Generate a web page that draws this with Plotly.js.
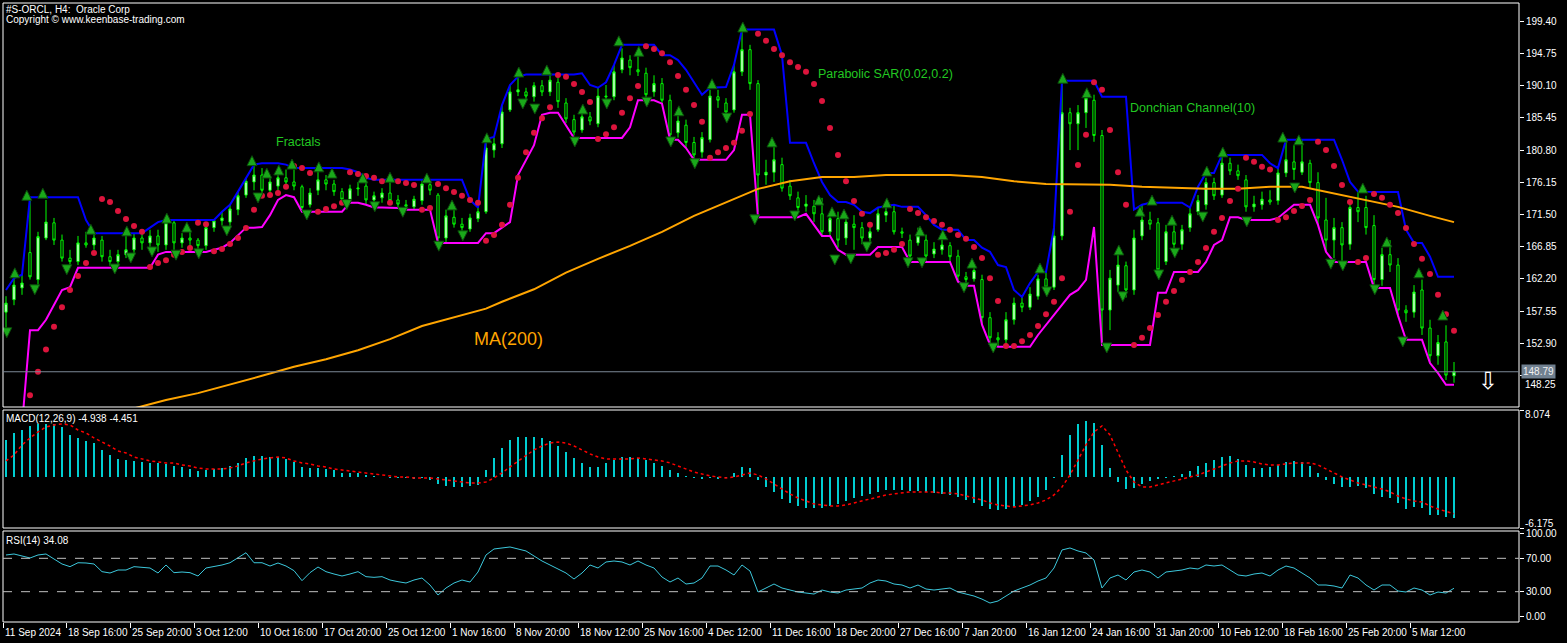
<!DOCTYPE html>
<html><head><meta charset="utf-8">
<script src="https://cdn.plot.ly/plotly-3.0.1.min.js"></script>
<style>html,body{margin:0;padding:0;background:#000;}#chart{width:1567px;height:643px;}</style>
</head><body><div id="chart"></div>
<script>
// ---------- DATA (H4 bars, #S-ORCL) ----------
const openP = [
157.4,159.2,160.9,166.0,162.1,168.1,170.3,167.8,165.2,164.7,
167.4,167.1,167.8,165.4,164.7,165.7,166.4,168.1,167.4,168.4,
167.1,170.3,167.4,168.1,167.8,167.0,169.6,170.6,170.4,172.2,
174.3,176.2,177.2,175.0,175.6,176.8,176.2,175.5,172.9,175.0,
176.5,175.9,174.8,173.7,175.2,175.6,173.6,173.9,174.6,173.6,
172.9,172.6,173.5,175.8,174.3,168.1,171.1,170.1,169.4,170.9,
171.9,180.8,181.7,186.6,189.2,189.2,188.5,190.1,189.2,190.6,
187.6,185.2,183.7,185.6,184.6,188.6,188.5,192.4,193.8,192.4,
191.9,189.2,190.4,188.0,183.3,184.4,181.9,180.5,182.3,188.5,
187.6,186.6,192.1,195.3,190.4,177.2,177.6,178.7,175.6,173.9,
172.7,172.7,171.6,169.0,170.9,168.1,170.1,169.6,168.1,169.3,
171.4,171.9,169.0,167.8,167.4,167.8,165.8,166.4,167.0,165.5,
162.5,162.2,162.1,156.6,153.7,153.4,156.3,158.7,158.1,159.7,
162.2,161.0,168.4,186.2,184.6,186.2,188.0,182.9,157.7,161.3,
164.1,160.6,168.4,170.7,170.3,164.7,169.0,167.2,169.6,171.9,
172.9,176.1,174.3,178.9,177.8,176.5,172.6,172.9,173.6,173.5,
177.5,179.1,177.6,178.9,176.1,170.7,167.8,169.6,167.2,172.5,
172.5,169.9,162.1,165.7,164.2,157.7,157.4,160.6,155.1,151.1,
153.1,148.2];
const highP = [
159.7,162.3,162.8,173.9,169.0,173.6,171.0,168.6,166.4,168.4,
169.0,168.8,168.4,166.4,166.4,168.6,168.8,168.8,169.3,169.3,
170.7,170.7,168.8,169.0,168.1,170.1,170.6,171.9,172.9,174.8,
176.8,178.7,178.2,177.2,177.6,178.0,178.0,175.8,175.3,178.0,
177.2,176.5,175.3,175.8,176.2,176.8,174.8,175.3,176.5,174.3,
173.6,174.2,176.5,176.5,174.6,172.2,172.3,171.0,171.6,172.5,
182.3,182.6,187.3,190.2,191.2,189.8,190.6,190.9,191.8,191.2,
188.3,185.9,186.6,186.3,189.8,190.2,193.1,195.5,194.5,195.0,
192.7,191.6,191.2,188.8,186.3,185.2,182.7,183.4,189.5,189.5,
188.3,193.1,198.2,196.0,190.9,179.4,181.5,179.7,176.5,174.8,
174.3,173.6,173.9,171.4,171.9,171.4,171.4,170.4,169.9,172.5,
172.7,172.9,169.6,168.6,169.6,168.6,167.5,168.1,167.5,166.4,
163.2,164.2,162.8,157.4,154.5,157.4,159.5,159.6,161.0,162.8,
163.1,169.6,190.6,186.9,187.3,188.8,188.8,183.7,163.5,165.7,
164.7,169.3,172.9,171.9,171.0,170.0,170.4,170.0,172.5,174.3,
176.8,176.8,180.1,179.7,178.7,177.2,174.2,174.8,175.0,178.2,
182.3,181.5,182.3,179.4,177.6,173.9,171.0,170.4,173.6,174.8,
174.2,171.4,166.7,167.8,165.2,158.4,161.3,162.1,156.3,154.1,
155.5,150.2];
const lowP = [
154.8,158.4,159.9,162.1,161.3,167.8,167.1,164.7,163.8,164.2,
166.7,166.4,164.7,164.1,163.8,165.2,165.7,166.4,166.4,166.1,
166.4,166.4,166.7,166.8,166.4,166.4,169.0,169.9,169.6,171.4,
173.9,175.0,174.3,174.3,174.8,175.3,175.0,171.9,172.5,174.3,
175.0,174.2,173.2,173.3,174.2,172.9,172.5,173.2,172.9,172.5,
172.2,172.2,172.9,174.3,167.4,167.4,169.6,168.8,169.0,170.4,
171.6,179.7,181.1,186.3,188.6,188.0,187.8,188.6,188.6,186.9,
184.7,182.9,183.3,184.4,184.1,187.9,188.0,191.9,191.6,191.5,
188.2,188.5,187.5,182.3,182.6,181.1,179.4,179.7,181.9,186.9,
185.6,186.2,191.5,189.5,171.9,175.8,176.2,174.8,173.6,171.6,
171.9,170.4,168.4,168.4,166.7,167.1,166.4,167.2,167.4,169.0,
170.4,168.6,168.1,164.7,167.0,164.7,165.2,165.7,164.7,161.8,
161.2,161.8,155.6,152.8,152.4,152.8,155.6,157.4,157.7,159.2,
160.3,160.6,167.8,180.8,180.8,184.0,182.0,152.7,154.8,160.3,
159.5,159.9,167.8,169.3,162.8,164.2,166.4,166.4,169.0,171.4,
172.2,173.6,173.9,177.2,176.5,171.9,171.9,172.2,172.9,172.9,
176.9,176.5,177.2,175.3,170.0,166.1,165.2,164.7,166.4,170.4,
168.6,161.3,161.2,163.2,156.9,156.0,156.6,154.1,150.2,149.8,
147.6,147.2];
const closeP = [
158.7,161.3,161.6,162.5,168.3,170.4,167.8,165.2,164.7,167.4,
167.1,168.1,165.4,164.7,165.7,166.4,168.1,167.4,168.4,167.1,
170.3,167.4,168.1,167.8,167.0,169.6,170.6,171.0,172.3,174.2,
176.3,177.2,175.0,176.2,176.8,176.2,175.6,172.5,174.6,176.5,
175.9,174.8,173.7,175.2,175.3,173.6,174.2,174.6,173.5,173.0,
172.7,173.7,175.9,175.0,168.1,171.3,170.1,169.6,171.0,171.9,
181.1,181.7,186.3,189.2,189.5,188.6,190.1,189.2,190.9,187.8,
185.3,183.4,185.6,185.0,188.6,188.5,192.1,194.1,192.7,192.1,
188.8,190.4,188.0,183.0,185.0,181.9,180.1,182.6,188.6,188.0,
186.3,192.1,195.3,190.4,177.2,177.6,179.4,175.3,174.2,172.5,
173.0,171.6,169.0,170.9,167.8,170.4,169.6,168.1,169.0,171.6,
171.9,169.0,168.8,165.5,168.4,165.5,166.5,167.1,165.4,162.6,
162.1,163.4,156.6,153.7,153.4,156.3,158.7,158.1,160.0,162.2,
161.0,168.4,186.2,184.6,186.2,188.3,182.9,157.7,162.3,164.2,
160.6,168.1,170.7,170.1,163.5,169.0,167.2,169.3,171.6,173.5,
176.1,174.2,178.9,177.8,177.1,172.6,173.0,173.7,173.3,177.5,
179.4,178.0,179.1,176.1,171.0,167.8,169.6,167.1,172.5,171.9,
169.6,162.1,165.7,164.2,157.7,157.3,160.3,155.1,151.1,153.0,
148.3,148.79];
const donchUpper = [
160.6,162.3,162.8,174.0,174.0,174.0,174.0,174.0,174.0,174.0,
170.7,168.8,168.8,168.8,168.8,168.8,168.8,168.8,169.6,170.4,
170.7,170.7,170.7,170.7,170.7,170.7,170.7,171.9,172.9,174.8,
176.8,178.7,178.9,178.9,178.9,178.7,178.2,178.2,178.2,178.2,
178.2,178.2,178.2,178.0,177.6,176.8,176.5,176.5,176.5,176.5,
176.5,176.5,176.5,176.5,176.5,176.5,176.5,176.5,173.6,172.5,
182.4,182.7,187.3,190.2,191.4,191.7,191.7,191.7,191.8,191.7,
191.7,191.7,191.9,190.2,189.8,190.6,193.1,196.0,196.0,196.0,
196.0,196.0,194.5,194.5,193.8,192.4,190.6,188.8,189.8,189.9,
189.9,193.1,198.2,198.2,198.2,198.2,198.2,194.5,181.85,181.85,
181.85,178.9,176.2,174.3,173.3,173.3,172.9,171.9,171.7,172.5,
172.7,172.9,172.6,172.6,172.6,171.4,170.0,169.3,169.3,169.3,
167.8,167.8,166.7,166.1,164.2,163.9,160.6,159.6,161.6,163.2,
163.2,169.6,190.8,190.8,190.8,190.8,190.8,188.5,188.5,188.5,
188.5,172.2,172.9,173.2,173.2,173.2,173.2,173.2,172.5,175.5,
177.5,177.5,180.1,180.1,180.1,180.1,180.1,180.1,178.9,178.2,
182.3,182.3,182.3,182.3,182.3,182.3,182.3,179.4,176.2,174.8,
174.75,174.75,174.75,174.75,174.75,169.3,167.4,167.4,165.4,162.5,
162.5,162.5];
const donchLower = [
141.0,141.0,141.0,154.8,154.8,156.3,158.4,160.6,161.0,163.8,
163.8,163.8,163.8,163.8,163.8,163.8,163.8,163.8,163.8,165.7,
166.1,166.1,166.1,166.1,166.1,166.1,166.4,166.7,167.4,168.55,
169.6,169.6,169.7,171.4,173.6,174.3,174.0,171.9,171.9,171.9,
171.9,171.9,171.9,173.2,173.2,172.9,172.5,172.5,172.5,172.45,
172.2,172.2,172.2,172.2,167.4,167.4,167.4,167.4,167.4,167.4,
168.8,168.8,169.6,170.4,177.2,179.4,181.5,185.9,186.2,186.2,
184.4,182.55,182.55,182.55,182.55,182.55,182.55,182.55,184.1,188.0,
188.0,188.0,187.5,182.3,182.3,181.1,179.4,179.4,179.4,179.4,
179.4,180.8,185.9,185.9,171.1,171.1,171.1,171.1,171.1,171.1,
171.6,170.0,168.4,168.4,166.4,165.7,165.7,165.7,165.7,166.8,
166.8,166.8,166.8,164.65,164.65,164.65,164.65,164.65,164.65,161.8,
161.2,161.2,155.6,152.7,152.4,152.4,152.4,152.4,152.4,154.1,
155.55,157.0,158.4,159.9,160.6,162.05,169.7,152.66,152.66,152.66,
152.66,152.66,152.66,152.66,160.2,160.2,163.2,163.2,163.2,163.2,
164.65,167.1,167.8,171.1,171.1,170.7,170.7,170.7,170.7,171.0,
171.9,172.9,172.9,172.9,170.0,166.1,164.65,164.65,164.65,164.65,
164.65,160.9,160.9,160.9,156.9,153.4,153.4,153.4,150.05,148.6,
146.9,146.9];
const sarVal = [
null,null,null,145.4,148.8,152.0,155.3,158.1,160.6,162.6,
164.5,165.95,173.75,173.3,172.0,170.86,169.85,169.0,163.9,164.5,
164.9,165.7,166.1,166.67,170.3,170.1,166.2,166.5,167.25,168.1,
169.56,172.2,174.2,174.3,174.6,175.5,178.5,178.2,177.5,171.9,
172.3,172.7,173.2,177.6,177.35,177.07,176.8,176.3,173.2,176.3,
176.05,175.77,172.2,172.45,175.9,175.3,174.75,174.2,173.6,173.2,
167.7,168.55,170.0,172.9,176.8,180.5,183.3,185.4,187.0,191.65,
191.4,190.35,189.2,187.75,182.4,183.1,184.1,186.2,188.3,190.06,
195.8,195.4,194.8,193.5,191.5,189.5,187.3,184.9,179.7,180.5,
181.1,181.85,183.6,186.0,197.6,196.6,195.4,194.5,193.5,192.8,
192.1,190.35,187.9,184.0,180.1,176.3,173.45,171.6,170.0,165.7,
165.95,166.4,167.25,172.3,171.7,171.1,170.57,170.0,169.3,168.55,
168.0,166.8,165.2,162.3,159.0,152.5,152.5,153.2,154.1,155.4,
157.1,158.9,162.3,171.9,178.65,183.0,190.6,189.5,183.7,177.6,
172.9,152.66,153.7,155.1,157.0,158.9,160.45,162.05,163.2,164.65,
166.67,169.0,171.0,173.45,175.2,179.7,179.1,178.4,178.0,170.7,
171.1,172.0,172.73,173.6,182.0,180.8,178.5,175.77,173.3,164.65,
165.2,174.47,173.9,172.9,171.7,169.56,167.25,165.1,162.9,159.9,
157.1,154.7];
const maBar = [16,20,24,28,32,36,40,44,48,52,56,60,62,66,70,74,78,82,86,90,94,98,102,106,110,114,118,122,126,130,134,138,142,146,150,154,158,162,164,166,170,174,178,181];
const maVal = [143.5,144.7,145.7,146.9,148.2,149.5,150.6,151.9,153.5,155.4,156.6,157.9,158.9,160.7,163.1,165.1,166.96,169.0,171.3,173.2,175.2,176.3,176.9,176.9,177.2,177.2,177.2,176.9,176.3,175.9,175.9,175.8,175.5,175.3,175.2,175.2,175.5,175.5,175.0,174.6,173.6,172.6,171.3,170.4];
const fracUpBar = [1.1,2.6,4.6,10.6,15.1,20.1,22.6,30.75,32.6,34.1,35.75,39.1,40.75,44.6,48.0,52.6,55.75,60.1,64.1,67.6,72.1,76.6,79.1,84.1,88.25,92.1,95.75,101.6,103.25,104.75,110.1,114.25,117.1,120.75,129.25,132.1,135.1,139.1,141.75,143.25,145.75,150.1,152.1,159.6,161.6,169.6,172.6,176.6,179.6];
const fracUpVal = [163.8,175.0,175.3,170.1,169.85,171.7,170.4,180.0,178.2,178.65,179.5,179.1,178.2,177.5,177.6,177.5,173.6,183.3,192.8,193.1,187.46,197.3,195.8,187.2,191.1,199.3,182.7,174.3,172.6,172.3,173.9,169.85,169.3,165.2,164.5,191.9,189.8,167.1,172.7,174.3,171.4,178.5,181.25,183.4,183.0,176.05,168.26,163.8,157.7];
const fracDnBar = [0.1,3.6,7.6,13.6,15.6,18.25,21.25,24.1,27.6,31.5,37.6,42.6,46.1,49.6,54.1,57.1,64.6,66.1,71.1,75.1,80.1,83.1,86.1,90.1,93.6,98.6,103.6,105.6,107.6,112.75,114.5,119.75,123.4,130.1,137.6,139.6,144.1,146.1,149.6,155.1,161.1,165.6,167.1,171.1,174.6];
const fracDnVal = [153.7,159.9,162.8,162.9,164.5,165.37,164.9,165.1,168.4,173.17,170.7,172.2,171.9,171.1,166.2,167.7,186.74,186.0,181.25,186.74,187.0,181.25,178.1,184.7,170.0,170.57,164.2,164.35,166.1,163.8,163.8,160.2,151.5,159.6,151.5,158.9,162.05,165.2,170.4,169.7,174.6,163.6,163.35,159.9,152.37];
const macdHist = [
4.46,5.30,5.66,6.15,6.39,6.39,6.39,6.03,5.06,4.70,
4.34,4.09,3.25,2.64,2.16,2.04,1.92,1.80,1.68,1.68,
1.56,1.32,1.20,0.95,0.71,0.83,0.95,1.07,1.32,1.68,
2.28,2.52,2.52,2.40,2.40,2.16,1.80,1.20,1.07,1.07,
0.95,0.83,0.47,0.47,0.47,0.23,0.11,0.02,-0.13,-0.13,
-0.13,-0.25,-0.13,-0.37,-0.86,-1.10,-1.22,-1.22,-1.10,-0.98,
0.83,2.28,3.49,4.46,4.82,4.82,4.82,4.70,4.34,3.73,
3.01,2.28,1.68,1.20,1.20,1.68,2.04,2.40,2.40,2.28,
2.04,1.68,1.32,0.83,0.47,0.11,-0.13,-0.25,-0.13,-0.25,
-0.13,0.47,1.20,1.07,-0.37,-1.22,-1.82,-2.67,-3.15,-3.51,
-3.76,-3.76,-3.76,-3.51,-3.27,-2.91,-2.55,-2.31,-2.06,-1.82,
-1.58,-1.58,-1.58,-1.70,-1.70,-1.82,-1.94,-2.06,-2.19,-2.43,
-2.79,-3.15,-3.51,-3.88,-4.00,-3.88,-3.63,-3.39,-2.91,-2.43,
-1.58,-0.13,2.64,5.06,6.39,6.75,6.51,3.85,1.07,-0.62,
-1.46,-1.34,-0.86,-0.50,-0.25,-0.13,0.11,0.35,0.71,1.32,
1.68,2.04,2.40,2.52,2.16,1.44,1.07,1.07,1.20,1.44,
1.80,1.92,1.80,1.32,0.47,-0.37,-0.86,-1.22,-1.22,-1.10,
-1.34,-2.06,-2.43,-2.55,-3.15,-3.88,-3.63,-3.76,-4.60,-4.60,
-4.84,-4.938];
const macdSignal = [
1.92,2.64,3.85,4.70,5.42,6.03,6.27,6.39,6.27,5.66,
5.30,4.70,4.21,3.73,3.13,2.89,2.40,2.16,1.92,1.80,
1.68,1.68,1.44,1.32,1.07,0.95,0.95,0.95,1.07,1.32,
1.68,1.92,2.16,2.28,2.40,2.28,1.92,1.68,1.56,1.32,
1.20,0.95,0.83,0.71,0.59,0.47,0.35,0.23,0.11,-0.01,
-0.01,-0.13,-0.13,-0.13,-0.25,-0.37,-0.50,-0.62,-0.74,-0.74,
-0.62,-0.13,0.47,1.20,1.92,2.64,3.25,3.73,4.09,4.21,
4.09,3.73,3.25,2.77,2.40,2.16,2.16,2.16,2.16,2.28,
2.16,2.04,1.92,1.68,1.32,0.95,0.59,0.35,0.11,-0.01,
-0.13,-0.01,0.23,0.47,0.23,-0.25,-0.86,-1.46,-2.06,-2.55,
-2.91,-3.27,-3.39,-3.51,-3.51,-3.39,-3.15,-2.91,-2.67,-2.43,
-2.19,-2.06,-1.94,-1.82,-1.82,-1.82,-1.82,-1.94,-1.94,-2.06,
-2.31,-2.55,-2.79,-3.15,-3.39,-3.51,-3.63,-3.51,-3.39,-3.15,
-2.79,-2.19,-1.22,0.23,2.04,3.85,5.42,6.15,5.06,3.01,
0.83,-0.62,-1.22,-1.22,-0.98,-0.74,-0.50,-0.25,-0.01,0.23,
0.59,0.95,1.32,1.68,1.92,1.92,1.80,1.56,1.44,1.44,
1.56,1.68,1.68,1.68,1.44,0.95,0.47,-0.01,-0.37,-0.74,
-0.98,-1.22,-1.46,-1.82,-2.31,-2.67,-2.91,-3.03,-3.51,-3.88,
-4.12,-4.451];
const rsiVal = [
74.0,75.2,72.8,70.4,74.0,75.2,69.2,63.2,60.0,64.7,
64.4,63.2,54.0,52.4,56.0,56.0,60.0,59.6,58.4,52.4,
62.0,52.8,53.6,52.8,48.8,58.4,60.0,62.0,64.7,70.4,
76.7,64.7,64.7,60.8,64.4,60.8,55.2,43.2,52.8,59.6,
54.0,51.2,48.8,51.2,54.0,48.0,47.2,48.0,44.0,42.0,
40.4,44.0,46.4,38.0,26.0,34.4,40.4,44.0,41.6,53.6,
74.0,81.2,82.4,83.6,81.2,78.8,72.8,66.8,62.0,57.2,
52.4,45.2,52.4,62.0,58.4,65.6,66.8,65.6,62.0,66.8,
62.0,58.4,47.6,41.6,46.4,39.2,40.4,46.4,60.8,60.8,
56.0,50.0,62.0,54.8,29.6,34.4,39.2,34.4,32.0,29.6,
28.4,27.2,32.0,29.6,28.4,32.0,33.2,34.4,40.4,44.0,
42.8,39.2,38.0,34.4,38.0,33.2,32.0,33.2,34.4,29.6,
27.2,24.8,21.1,16.4,18.8,24.8,30.8,34.4,38.0,42.8,
46.4,58.4,80.0,82.4,78.8,76.4,68.0,34.4,46.4,50.0,
44.0,53.6,56.0,53.6,46.4,53.6,54.8,56.0,58.4,57.2,
62.0,60.8,62.0,56.0,50.0,48.8,51.2,52.4,48.8,56.0,
60.8,58.4,52.4,46.4,38.0,38.0,36.8,34.4,50.0,46.4,
38.0,32.0,38.0,38.0,30.8,29.6,34.4,32.0,26.0,29.6,
28.4,34.08];
const priceTicks = [199.40,194.75,190.10,185.45,180.80,176.15,171.50,166.85,162.20,157.55,152.90,148.25];
const rsiTicks = [100,70,30,0];
const dateLabels = ["11 Sep 2024","18 Sep 16:00","25 Sep 20:00","3 Oct 12:00","10 Oct 16:00","17 Oct 20:00","25 Oct 12:00","1 Nov 16:00","8 Nov 20:00","18 Nov 12:00","25 Nov 16:00","4 Dec 12:00","11 Dec 16:00","18 Dec 20:00","27 Dec 16:00","7 Jan 20:00","16 Jan 12:00","24 Jan 16:00","31 Jan 20:00","10 Feb 12:00","18 Feb 16:00","25 Feb 20:00","5 Mar 12:00"];
const lastPrice = 148.79;
const macdTop = 8.074, macdBottom = -6.175;

// ---------- LAYOUT HELPERS ----------
const W = 1567, H = 643, ML = 3, MR = 48, MT = 3, MB = 21;
const PW = W - ML - MR, PH = H - MT - MB;
const fx = px => (px - ML) / PW;
const fy = py => (H - MB - py) / PH;
const barIdx = closeP.map((_, i) => i);
const xMin = -0.375, xMax = xMin + PW / 8;
const tickPos = dateLabels.map((_, k) => k === 0 ? xMin : 7.5 + 8 * (k - 1));
const yMin = 143.70, yMax = 202.04;
const pricePerPx = (yMax - yMin) / (407 - 3);

const FONT = "Liberation Sans, Arial, sans-serif";
const green = '#00ff00';

const data = [
  {type:'candlestick', x:barIdx, open:openP, high:highP, low:lowP, close:closeP,
   xaxis:'x', yaxis:'y', whiskerwidth:0, hoverinfo:'skip',
   increasing:{line:{color:green, width:1}, fillcolor:'#ffffff'},
   decreasing:{line:{color:green, width:1}, fillcolor:'#000000'}},
  {type:'scatter', mode:'lines', x:barIdx, y:donchUpper, line:{color:'#0000ff', width:2}, xaxis:'x', yaxis:'y', hoverinfo:'skip'},
  {type:'scatter', mode:'lines', x:barIdx, y:donchLower, line:{color:'#ff00ff', width:2}, xaxis:'x', yaxis:'y', hoverinfo:'skip'},
  {type:'scatter', mode:'lines', x:maBar, y:maVal, line:{color:'#ffa500', width:2}, xaxis:'x', yaxis:'y', hoverinfo:'skip'},
  {type:'scatter', mode:'markers', x:barIdx, y:sarVal, marker:{color:'#dc143c', size:6}, xaxis:'x', yaxis:'y', hoverinfo:'skip'},
  {type:'scatter', mode:'markers', x:fracUpBar, y:fracUpVal, marker:{symbol:'arrow-up', size:10, color:'#1aa81a', line:{color:'#0b4a0b', width:1}}, xaxis:'x', yaxis:'y', hoverinfo:'skip'},
  {type:'scatter', mode:'markers', x:fracDnBar, y:fracDnVal, marker:{symbol:'arrow-down', size:10, color:'#1aa81a', line:{color:'#0b4a0b', width:1}}, xaxis:'x', yaxis:'y', hoverinfo:'skip'},
  {type:'bar', x:barIdx, y:macdHist, width:0.3, marker:{color:'#00ced1', line:{width:0}}, xaxis:'x', yaxis:'y2', hoverinfo:'skip'},
  {type:'scatter', mode:'lines', x:barIdx, y:macdSignal, line:{color:'#ff0000', width:1.5, dash:'dot'}, xaxis:'x', yaxis:'y2', hoverinfo:'skip'},
  {type:'scatter', mode:'lines', x:barIdx, y:rsiVal, line:{color:'#3cc8dc', width:1}, xaxis:'x', yaxis:'y3', hoverinfo:'skip'}
];

const axisFont = {family:FONT, size:10, color:'#ffffff'};
const annotations = [];
function txt(text, px, py, opts) {
  annotations.push(Object.assign({text:text, xref:'paper', yref:'paper', x:fx(px), y:fy(py),
    xanchor:'left', yanchor:'middle', showarrow:false, borderpad:0,
    font:{family:FONT, size:10, color:'#ffffff'}}, opts || {}));
}
txt('#S-ORCL, H4: \u00a0Oracle Corp', 5, 9);
txt('Copyright \u00a9 www.keenbase-trading.com', 5, 20);
txt('Fractals', 275, 142, {font:{family:FONT, size:12.5, color:'#22c822'}});
txt('Parabolic SAR(0.02,0.2)', 817, 74, {font:{family:FONT, size:12.5, color:'#22c822'}});
txt('Donchian Channel(10)', 1129, 108, {font:{family:FONT, size:12.5, color:'#22c822'}});
txt('MA(200)', 473, 339, {font:{family:FONT, size:18, color:'#ffa500'}});
txt('MACD(12,26,9) -4.938 -4.451', 5, 418);
txt('RSI(14) 34.08', 5, 540);
txt(macdTop.toFixed(3), 1524, 414);
txt(macdBottom.toFixed(3), 1524, 523);
txt('\u21e9', 1477, 381, {font:{family:'DejaVu Sans', size:24, color:'#ffffff'}});
// lowest price tick label sits just under the last-price box
const lowTick = priceTicks[priceTicks.length - 1];
annotations.push({text:lowTick.toFixed(2), xref:'paper', yref:'paper', x:fx(1524), y:fy(378), xanchor:'left', yanchor:'top',
  showarrow:false, borderpad:0, font:axisFont});
annotations.push({text:lastPrice.toFixed(2), xref:'paper', yref:'y', x:1, y:lastPrice, xanchor:'left', yanchor:'middle',
  xshift:2, showarrow:false, bgcolor:'#708090', borderpad:1, font:{family:FONT, size:10, color:'#f0f0f0'}});
dateLabels.forEach((lab, k) => {
  annotations.push({text:lab, xref:'x', yref:'paper', x:tickPos[k], y:fy(632), xanchor:'left', yanchor:'middle',
    xshift:1, showarrow:false, borderpad:0, font:{family:FONT, size:10, color:'#ffffff'}});
});

function paneRect(top, bottom) {
  return {type:'rect', xref:'paper', yref:'paper', x0:0, x1:1, y0:fy(bottom), y1:fy(top), line:{color:'#ffffff', width:1}, fillcolor:'rgba(0,0,0,0)'};
}
const shapes = [
  paneRect(3, 407), paneRect(410, 528), paneRect(531, 622),
  {type:'line', xref:'paper', x0:0, x1:1, yref:'y', y0:lastPrice, y1:lastPrice, line:{color:'#7b8896', width:1}},
  {type:'line', xref:'paper', x0:0, x1:1, yref:'y3', y0:70, y1:70, line:{color:'#c0c0c0', width:1, dash:'dash'}},
  {type:'line', xref:'paper', x0:0, x1:1, yref:'y3', y0:30, y1:30, line:{color:'#c0c0c0', width:1, dash:'dash'}}
];

const layout = {
  width:W, height:H, margin:{l:ML, r:MR, t:MT, b:MB, pad:0},
  paper_bgcolor:'#000000', plot_bgcolor:'#000000', showlegend:false,
  font:{family:FONT, color:'#ffffff', size:10},
  boxgap:0.6,
  xaxis:{range:[xMin, xMax], anchor:'y3', showgrid:false, zeroline:false, showline:false,
    tickmode:'array', tickvals:tickPos, ticktext:dateLabels.map(() => ''), showticklabels:false,
    ticks:'outside', ticklen:5, tickcolor:'#ffffff', rangeslider:{visible:false}, fixedrange:true},
  yaxis:{domain:[fy(407), fy(3)], range:[yMin, yMax], side:'right', anchor:'x', showgrid:false, zeroline:false, showline:false,
    tickmode:'array', tickvals:priceTicks, ticktext:priceTicks.map((v, i) => i === priceTicks.length - 1 ? '' : v.toFixed(2)),
    ticks:'outside', ticklen:4, tickcolor:'#ffffff', tickfont:axisFont},
  yaxis2:{domain:[fy(528), fy(410)], range:[macdBottom, macdTop], side:'right', anchor:'x', showgrid:false, zeroline:false, showline:false,
    tickmode:'array', tickvals:[macdTop, macdBottom], showticklabels:false, ticks:'outside', ticklen:4, tickcolor:'#ffffff'},
  yaxis3:{domain:[0, fy(531)], range:[-6.35, 102.76], side:'right', anchor:'x', showgrid:false, zeroline:false, showline:false,
    tickmode:'array', tickvals:rsiTicks, ticktext:rsiTicks.map(v => v.toFixed(2)), ticks:'outside', ticklen:4, tickcolor:'#ffffff', tickfont:axisFont},
  bargap:0, shapes:shapes, annotations:annotations
};

Plotly.newPlot('chart', data, layout, {staticPlot:true, displayModeBar:false});
</script>
</body></html>
